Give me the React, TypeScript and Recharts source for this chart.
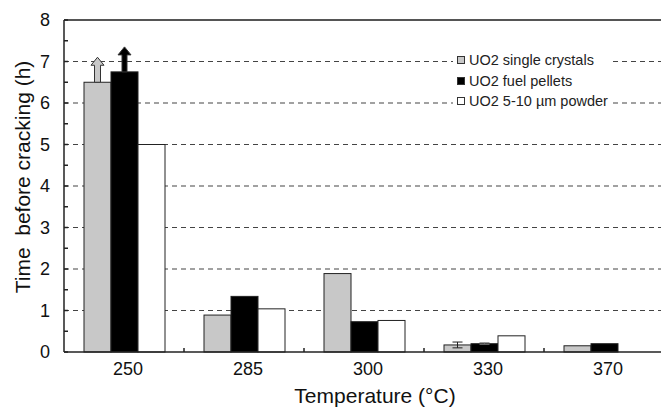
import React from 'react'
import {
  BarChart,
  Bar,
  XAxis,
  YAxis,
  CartesianGrid,
  Legend,
  ErrorBar,
  ReferenceLine
} from 'recharts'

// temperatures (°C) on the x axis
const temps = ['250', '285', '300', '330', '370']

// series names, in legend order
const seriesNames = ['UO2 single crystals', 'UO2 fuel pellets', 'UO2 5-10 µm powder']

// time before cracking (h)
const singleCrystals = [6.5, 0.89, 1.89, 0.17, 0.15]
const fuelPellets = [6.75, 1.34, 0.73, 0.2, 0.2]
const powder = [5.0, 1.04, 0.76, 0.39, null]

// error half-widths (h)
const crystalsErr = [null, null, null, 0.07, null]
const pelletsErr = [null, null, null, 0.02, null]

// not cracked at end of test -> upward arrow
const crystalsMore = [true, false, false, false, false]
const pelletsMore = [true, false, false, false, false]

const yTicks = [0, 1, 2, 3, 4, 5, 6, 7, 8]
const yMinorTicks = [0.5, 1.5, 2.5, 3.5, 4.5, 5.5, 6.5, 7.5]
const gridValues = [1, 2, 3, 4, 5, 6, 7]

const data = temps.map((t, i) => ({
  temp: t,
  crystals: singleCrystals[i],
  pellets: fuelPellets[i],
  powder: powder[i],
  crystalsErr: crystalsErr[i],
  pelletsErr: pelletsErr[i],
  crystalsMore: crystalsMore[i],
  pelletsMore: pelletsMore[i]
}))

const FONT = '"Liberation Sans", Arial, sans-serif'
const CHART_W = 680
const CHART_H = 407
const MARGIN = { top: 20, right: 16, bottom: 0, left: 0 }
const Y_AXIS_W = 64
const X_AXIS_H = 55
const HALF_BAND = (CHART_W - MARGIN.left - MARGIN.right - Y_AXIS_W) / temps.length / 2

const makeShape = (flagKey: string, shaftHalf: number) => (props: any) => {
  const { x, y, width, height, fill, payload } = props
  if (height == null || isNaN(height)) return null
  const cx = x + width / 2
  const tip = y - 25
  const headH = 8
  const headHalf = 6.5
  const arrow = payload && payload[flagKey]
  return (
    <g>
      <rect x={x} y={y} width={width} height={height} fill={fill} stroke="#222" strokeWidth={1} />
      {arrow && (
        <path
          d={`M${cx - shaftHalf},${y} L${cx - shaftHalf},${tip + headH} L${cx - headHalf},${tip + headH} L${cx},${tip} L${cx + headHalf},${tip + headH} L${cx + shaftHalf},${tip + headH} L${cx + shaftHalf},${y} Z`}
          fill={fill}
          stroke="#333"
          strokeWidth={1}
        />
      )}
    </g>
  )
}

const XTick = (props: any) => {
  const { x, y, payload, index } = props
  return (
    <g>
      <text x={x + 4} y={y + 10} dy="0.71em" textAnchor="middle" fontSize={18} fontFamily={FONT} fill="#111">
        {payload.value}
      </text>
      {index < temps.length - 1 && (
        <line x1={x + HALF_BAND} x2={x + HALF_BAND} y1={y} y2={y - 4} stroke="#222" strokeWidth={1.5} />
      )}
    </g>
  )
}

const YTick = (props: any) => {
  const { x, y, payload } = props
  const isMajor = yTicks.includes(payload.value)
  return (
    <g>
      <line x1={x} x2={x + 4} y1={y} y2={y} stroke="#222" strokeWidth={1.5} />
      {isMajor && (
        <text x={x - 14} y={y} dy="0.355em" textAnchor="end" fontSize={18} fontFamily={FONT} fill="#111">
          {payload.value}
        </text>
      )}
    </g>
  )
}

const LegendBox = (props: any) => {
  const items = [...(props.payload || [])].sort(
    (a: any, b: any) => seriesNames.indexOf(a.value) - seriesNames.indexOf(b.value)
  )
  return (
    <div style={{ background: '#fff', fontFamily: FONT, fontSize: 14.5, color: '#222', paddingLeft: 4 }}>
      {items.map((entry: any) => (
        <div key={entry.value} style={{ display: 'flex', alignItems: 'center', height: 20.5 }}>
          <span
            style={{
              display: 'inline-block',
              width: 6,
              height: 6,
              border: '1px solid #333',
              background: entry.color,
              marginRight: 4
            }}
          />
          <span>{entry.value}</span>
        </div>
      ))}
    </div>
  )
}

const allYTicks = [...yTicks, ...yMinorTicks].sort((a, b) => a - b)

export default function App() {
  return (
    <div style={{ position: 'absolute', left: 0, top: 0, width: 661, height: 407, overflow: 'hidden', background: '#fff' }}>
      <BarChart
        width={CHART_W}
        height={CHART_H}
        data={data}
        margin={MARGIN}
        barCategoryGap={20}
        barGap={0}
      >
        <CartesianGrid
          vertical={false}
          horizontalValues={gridValues}
          stroke="#444"
          strokeWidth={1.2}
          strokeDasharray="5 4"
        />
        <ReferenceLine y={8} stroke="#555" strokeWidth={2} />
        <XAxis
          dataKey="temp"
          height={X_AXIS_H}
          tickLine={false}
          tickSize={0}
          tickMargin={0}
          axisLine={{ stroke: '#222', strokeWidth: 1.5 }}
          tick={<XTick />}
          interval={0}
          label={{
            content: () => (
              <text x={375} y={403} textAnchor="middle" fontSize={21} fontFamily={FONT} fill="#111">
                Temperature (°C)
              </text>
            )
          }}
        />
        <YAxis
          width={Y_AXIS_W}
          domain={[0, 8]}
          ticks={allYTicks}
          interval={0}
          tickLine={false}
          tickSize={0}
          tickMargin={0}
          axisLine={{ stroke: '#222', strokeWidth: 1.5 }}
          tick={<YTick />}
          label={{
            content: () => (
              <text
                x={22}
                y={177}
                transform="rotate(-90 22 177)"
                textAnchor="middle"
                dominantBaseline="central"
                fontSize={21}
                fontFamily={FONT}
                fill="#111"
                style={{ whiteSpace: 'pre' }}
              >
                {'Time  before cracking (h)'}
              </text>
            )
          }}
        />
        <Legend
          layout="vertical"
          align="center"
          verticalAlign="middle"
          content={<LegendBox />}
          wrapperStyle={{ left: 453, top: 50, width: 160 }}
        />
        <Bar
          dataKey="crystals"
          name={seriesNames[0]}
          fill="#c8c8c8"
          shape={makeShape('crystalsMore', 3)}
          isAnimationActive={false}
        >
          <ErrorBar dataKey="crystalsErr" width={5} stroke="#222" strokeWidth={1} />
        </Bar>
        <Bar
          dataKey="pellets"
          name={seriesNames[1]}
          fill="#000"
          shape={makeShape('pelletsMore', 2.5)}
          isAnimationActive={false}
        >
          <ErrorBar dataKey="pelletsErr" width={5} stroke="#666" strokeWidth={1} />
        </Bar>
        <Bar
          dataKey="powder"
          name={seriesNames[2]}
          fill="#fff"
          shape={makeShape('powderMore', 3)}
          isAnimationActive={false}
        />
      </BarChart>
    </div>
  )
}
